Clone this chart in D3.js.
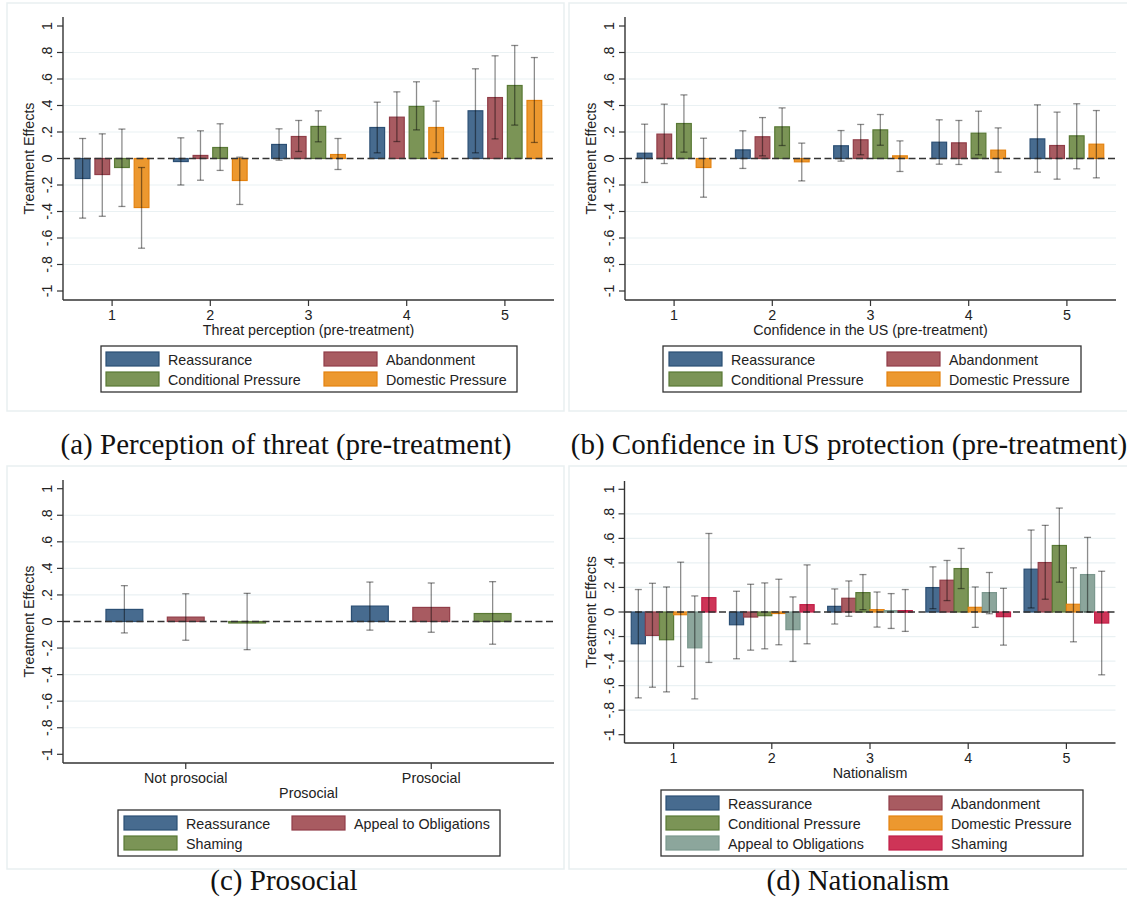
<!DOCTYPE html>
<html>
<head>
<meta charset="utf-8">
<script src="https://cdn.jsdelivr.net/npm/d3@7"></script>
<style>
  body { margin: 0; background: #fff; }
  text { font-family: "Liberation Sans", Arial, sans-serif; fill: #222; }
  .caption { font-family: "Liberation Serif", "Times New Roman", serif; font-size: 29px; fill: #111; }
</style>
</head>
<body>
<svg id="chart" width="1127" height="923"></svg>
<script>

// ---- data ----

var levels = ['1', '2', '3', '4', '5'];
var prosocialLevels = ['Not prosocial', 'Prosocial'];

var seriesA = ['Reassurance', 'Abandonment', 'Conditional Pressure', 'Domestic Pressure'];
var seriesC = ['Reassurance', 'Appeal to Obligations', 'Shaming'];
var seriesD = ['Reassurance', 'Abandonment', 'Conditional Pressure', 'Domestic Pressure', 'Appeal to Obligations', 'Shaming'];

var colors = {
  'Reassurance':           { fill: '#476b8f', stroke: '#2b4f74' },
  'Abandonment':           { fill: '#a85b61', stroke: '#913d48' },
  'Conditional Pressure':  { fill: '#7b9456', stroke: '#597935' },
  'Domestic Pressure':     { fill: '#ec982f', stroke: '#e4820f' },
  'Appeal to Obligations': { fill: '#8ca69c', stroke: '#7b988e' },
  'Shaming':               { fill: '#ce3457', stroke: '#c21f48' }
};
// panel (c) uses the abandonment red for appeal and the green for shaming
var colorsC = {
  'Reassurance':           colors['Reassurance'],
  'Appeal to Obligations': colors['Abandonment'],
  'Shaming':               colors['Conditional Pressure']
};

// (a) threat perception: estimate per level, one row per series
var threatEst = [
  [-0.151, -0.023, 0.106, 0.234, 0.360],
  [-0.121,  0.023, 0.166, 0.312, 0.460],
  [-0.068,  0.083, 0.242, 0.393, 0.551],
  [-0.370, -0.166, 0.030, 0.234, 0.438]
];
var threatLo = [
  [-0.450, -0.200, -0.013, 0.043, 0.043],
  [-0.436, -0.164,  0.053, 0.128, 0.148],
  [-0.362, -0.090,  0.126, 0.216, 0.252],
  [-0.677, -0.347, -0.083, 0.045, 0.121]
];
var threatHi = [
  [0.151, 0.156, 0.224, 0.425, 0.677],
  [0.186, 0.209, 0.287, 0.503, 0.775],
  [0.222, 0.262, 0.360, 0.579, 0.853],
  [-0.068, 0.010, 0.151, 0.433, 0.762]
];

// (b) confidence in the US
var confEst = [
  [0.040, 0.065, 0.096, 0.123, 0.148],
  [0.184, 0.164, 0.141, 0.118, 0.098],
  [0.264, 0.239, 0.216, 0.191, 0.171],
  [-0.068, -0.025, 0.020, 0.063, 0.108]
];
var confLo = [
  [-0.181, -0.075, -0.020, -0.043, -0.103],
  [-0.038,  0.020,  0.028, -0.045, -0.156],
  [ 0.048,  0.098,  0.100,  0.028, -0.078],
  [-0.292, -0.169, -0.098, -0.103, -0.146]
];
var confHi = [
  [0.259, 0.209, 0.211, 0.292, 0.405],
  [0.410, 0.309, 0.257, 0.287, 0.350],
  [0.480, 0.382, 0.332, 0.357, 0.413],
  [0.153, 0.116, 0.133, 0.231, 0.362]
];

// (c) prosocial
var prosEst = [
  [0.091, 0.116],
  [0.033, 0.106],
  [-0.003, 0.060]
];
var prosLo = [
  [-0.086, -0.065],
  [-0.141, -0.081],
  [-0.212, -0.171]
];
var prosHi = [
  [0.270, 0.297],
  [0.209, 0.290],
  [0.212, 0.300]
];

// (d) nationalism
var natEst = [
  [-0.259, -0.104, 0.046, 0.199, 0.349],
  [-0.191, -0.041, 0.112, 0.259, 0.403],
  [-0.226, -0.030, 0.158, 0.354, 0.542],
  [-0.022, -0.008, 0.019, 0.038, 0.063],
  [-0.292, -0.144, 0.011, 0.158, 0.305],
  [ 0.117,  0.060, 0.011, -0.038, -0.090]
];
var natLo = [
  [-0.700, -0.381, -0.098,  0.027,  0.033],
  [-0.613, -0.311, -0.035,  0.093,  0.104],
  [-0.651, -0.300,  0.019,  0.191,  0.243],
  [-0.444, -0.267, -0.123, -0.125, -0.243],
  [-0.708, -0.403, -0.134, -0.014,  0.000],
  [-0.411, -0.259, -0.158, -0.270, -0.512]
];
var natHi = [
  [0.183, 0.169, 0.188, 0.368, 0.668],
  [0.234, 0.226, 0.253, 0.420, 0.706],
  [0.204, 0.237, 0.305, 0.518, 0.847],
  [0.406, 0.267, 0.163, 0.204, 0.360],
  [0.131, 0.123, 0.150, 0.322, 0.608],
  [0.640, 0.384, 0.183, 0.193, 0.332]
];

var yTicks = [-1, -0.8, -0.6, -0.4, -0.2, 0, 0.2, 0.4, 0.6, 0.8, 1];

function tickFmt(v) {
  if (v === 0) return '0';
  if (v === 1 || v === -1) return String(v);
  return (v < 0 ? '-' : '') + String(Math.abs(v)).replace(/^0/, '');
}

var svg = d3.select('#chart');

// one panel of the figure
function drawPanel(p) {
  var g = svg.append('g');

  // light frame around the panel
  g.append('rect')
    .attr('x', p.frame[0]).attr('y', p.frame[1])
    .attr('width', p.frame[2]).attr('height', p.frame[3])
    .attr('fill', 'none').attr('stroke', '#e9eff1').attr('stroke-width', 1.5);

  var y = d3.scaleLinear().domain([-1, 1]).range([p.yMinus1, p.yPlus1]);
  var x = d3.scaleBand().domain(p.cats).range([p.left, p.right]).padding(0);

  var groupW = x.bandwidth() * p.groupFrac;
  var inner = d3.scaleBand().domain(p.series).range([-groupW / 2, groupW / 2]).padding(0);
  var barW = inner.bandwidth() * p.barFrac;

  // gridlines
  g.selectAll('.grid')
    .data(yTicks.filter(function(t) { return Math.abs(t) > 0.01 && Math.abs(t) < 0.99; }))
    .enter().append('line')
    .attr('x1', p.left + 1).attr('x2', p.right)
    .attr('y1', function(d) { return y(d); }).attr('y2', function(d) { return y(d); })
    .attr('stroke', '#eaf1f3').attr('stroke-width', 1.2);

  // bars
  var rows = [];
  p.series.forEach(function(s, i) {
    p.cats.forEach(function(c, j) {
      rows.push({ s: s, c: c, est: p.est[i][j], lo: p.lo[i][j], hi: p.hi[i][j] });
    });
  });

  g.selectAll('.bar')
    .data(rows)
    .enter().append('rect')
    .attr('x', function(d) { return x(d.c) + x.bandwidth() / 2 + inner(d.s) + (inner.bandwidth() - barW) / 2; })
    .attr('y', function(d) { return y(Math.max(0, d.est)); })
    .attr('width', barW)
    .attr('height', function(d) { return Math.max(1.5, Math.abs(y(d.est) - y(0))); })
    .attr('fill', function(d) { return p.colors[d.s].fill; })
    .attr('stroke', function(d) { return p.colors[d.s].stroke; })
    .attr('stroke-width', 1.2);

  // zero line
  g.append('line')
    .attr('x1', p.left).attr('x2', p.right)
    .attr('y1', y(0)).attr('y2', y(0))
    .attr('stroke', '#333').attr('stroke-width', 1.3)
    .attr('stroke-dasharray', '7,3.5');

  // confidence intervals
  var ci = g.selectAll('.ci')
    .data(rows)
    .enter().append('g')
    .attr('transform', function(d) {
      return 'translate(' + (x(d.c) + x.bandwidth() / 2 + inner(d.s) + inner.bandwidth() / 2) + ',0)';
    })
    .attr('stroke', '#000').attr('stroke-opacity', 0.45).attr('stroke-width', 1.3);
  ci.append('line')
    .attr('y1', function(d) { return y(d.lo); }).attr('y2', function(d) { return y(d.hi); });
  ci.append('line')
    .attr('x1', -3.5).attr('x2', 3.5)
    .attr('y1', function(d) { return y(d.lo); }).attr('y2', function(d) { return y(d.lo); });
  ci.append('line')
    .attr('x1', -3.5).attr('x2', 3.5)
    .attr('y1', function(d) { return y(d.hi); }).attr('y2', function(d) { return y(d.hi); });

  // y axis
  g.append('line')
    .attr('x1', p.left).attr('x2', p.left)
    .attr('y1', p.top).attr('y2', p.bottom)
    .attr('stroke', '#333').attr('stroke-width', 1.4);
  g.selectAll('.ytick')
    .data(yTicks).enter().append('line')
    .attr('x1', p.left - 6).attr('x2', p.left)
    .attr('y1', function(d) { return y(d); }).attr('y2', function(d) { return y(d); })
    .attr('stroke', '#333').attr('stroke-width', 1.2);
  g.selectAll('.ylab')
    .data(yTicks).enter().append('text')
    .attr('transform', function(d) { return 'translate(' + (p.left - 11) + ',' + y(d) + ') rotate(-90)'; })
    .attr('text-anchor', 'middle')
    .style('font-size', '14.3px')
    .text(tickFmt);
  g.append('text')
    .attr('transform', 'translate(' + (p.left - 29) + ',' + y(0) + ') rotate(-90)')
    .attr('text-anchor', 'middle')
    .style('font-size', '14.3px')
    .text('Treatment Effects');

  // x axis
  g.append('line')
    .attr('x1', p.left).attr('x2', p.right)
    .attr('y1', p.bottom).attr('y2', p.bottom)
    .attr('stroke', '#333').attr('stroke-width', 1.4);
  g.selectAll('.xtick')
    .data(p.cats).enter().append('line')
    .attr('x1', function(d) { return x(d) + x.bandwidth() / 2; })
    .attr('x2', function(d) { return x(d) + x.bandwidth() / 2; })
    .attr('y1', p.bottom).attr('y2', p.bottom + 6)
    .attr('stroke', '#333').attr('stroke-width', 1.2);
  g.selectAll('.xlab')
    .data(p.cats).enter().append('text')
    .attr('x', function(d) { return x(d) + x.bandwidth() / 2; })
    .attr('y', p.bottom + 19.5)
    .attr('text-anchor', 'middle')
    .style('font-size', '14.3px')
    .text(function(d) { return d; });
  g.append('text')
    .attr('x', (p.left + p.right) / 2)
    .attr('y', p.bottom + 34.5)
    .attr('text-anchor', 'middle')
    .style('font-size', '14.3px')
    .text(p.xTitle);

  // legend
  var L = p.legend;
  var nRows = Math.ceil(p.series.length / 2);
  g.append('rect')
    .attr('x', L.x).attr('y', L.y)
    .attr('width', L.w).attr('height', nRows * 20 + 6)
    .attr('fill', '#fff').attr('stroke', '#333').attr('stroke-width', 1.3);
  var item = g.selectAll('.leg')
    .data(p.series).enter().append('g')
    .attr('transform', function(d, i) {
      return 'translate(' + (i % 2 === 0 ? L.col1 : L.col2) + ',' + (L.y + 6 + Math.floor(i / 2) * 20) + ')';
    });
  item.append('rect')
    .attr('width', 53).attr('height', 14)
    .attr('fill', function(d) { return p.colors[d].fill; })
    .attr('stroke', function(d) { return p.colors[d].stroke; })
    .attr('stroke-width', 1.2);
  item.append('text')
    .attr('x', 62).attr('y', 12.5)
    .style('font-size', '14.3px')
    .text(function(d) { return d; });

  svg.append('text')
    .attr('class', 'caption')
    .attr('x', p.caption[1]).attr('y', p.caption[2])
    .attr('text-anchor', 'middle')
    .text(p.caption[0]);
}

drawPanel({
  frame: [7, 3, 557, 408], left: 63, right: 554, top: 17, bottom: 300,
  yPlus1: 26, yMinus1: 291,
  cats: levels, series: seriesA, colors: colors,
  est: threatEst, lo: threatLo, hi: threatHi,
  groupFrac: 0.8, barFrac: 0.75,
  xTitle: 'Threat perception (pre-treatment)',
  legend: { x: 101, y: 346, w: 416, col1: 106, col2: 324 },
  caption: ['(a) Perception of threat (pre-treatment)', 286, 454]
});

drawPanel({
  frame: [569, 3, 570, 408], left: 625, right: 1116, top: 17, bottom: 300,
  yPlus1: 26, yMinus1: 291,
  cats: levels, series: seriesA, colors: colors,
  est: confEst, lo: confLo, hi: confHi,
  groupFrac: 0.8, barFrac: 0.75,
  xTitle: 'Confidence in the US (pre-treatment)',
  legend: { x: 663, y: 346, w: 418, col1: 669, col2: 887 },
  caption: ['(b) Confidence in US protection (pre-treatment)', 849, 454]
});

drawPanel({
  frame: [7, 466, 557, 403], left: 63, right: 554, top: 480, bottom: 763,
  yPlus1: 488.7, yMinus1: 754.3,
  cats: prosocialLevels, series: seriesC, colors: colorsC,
  est: prosEst, lo: prosLo, hi: prosHi,
  groupFrac: 0.75, barFrac: 0.6,
  xTitle: 'Prosocial',
  legend: { x: 118, y: 810, w: 382, col1: 124, col2: 292 },
  caption: ['(c) Prosocial', 284, 890]
});

drawPanel({
  frame: [569, 466, 570, 403], left: 624.5, right: 1115.5, top: 481, bottom: 743,
  yPlus1: 489.3, yMinus1: 734.7,
  cats: levels, series: seriesD, colors: colors,
  est: natEst, lo: natLo, hi: natHi,
  groupFrac: 0.862, barFrac: 1,
  xTitle: 'Nationalism',
  legend: { x: 661, y: 790, w: 422, col1: 666, col2: 889 },
  caption: ['(d) Nationalism', 858, 890]
});
</script>
</body>
</html>
